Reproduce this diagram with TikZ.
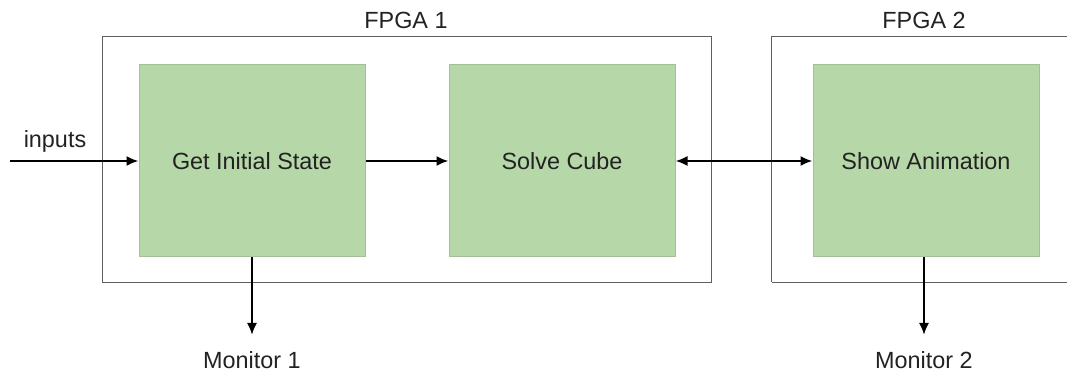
\documentclass[tikz,border=0pt]{standalone}
\usepackage{fontspec}
\setmainfont{Liberation Sans}
\usetikzlibrary{positioning,arrows.meta,calc}

\definecolor{blockgreen}{HTML}{B6D7A8}
\definecolor{blockedge}{HTML}{A3BF97}
\definecolor{boxgray}{HTML}{5F5F5F}
\definecolor{labelgray}{HTML}{222222}

\tikzset{
 block/.style={draw=blockedge, fill=blockgreen, line width=0.5pt, minimum width=113pt, minimum height=96pt, text=labelgray},
 fpga/.style={draw=boxgray, line width=0.75pt},
 flow/.style={-{Latex[length=6pt,width=5pt]}, line width=1pt},
 flowboth/.style={{Latex[length=6pt,width=5pt]}-{Latex[length=6pt,width=5pt]}, line width=1pt},
 plaintext/.style={text=labelgray}
}

\begin{document}
\begin{tikzpicture}[x=0.5pt,y=-0.5pt,font=\fontsize{11.7}{14}\selectfont]
 \useasboundingbox (0,0) rectangle (1067,373);

 %Blocks
 \node (getstate) [block] at (252,161) {Get Initial State};
 \node (solve) [block, right=41.5pt of getstate] {Solve Cube};
 \node (show) [block, right=68.5pt of solve] {Show Animation};

 %FPGA boxes
 \draw[fpga] ($(getstate.north west)+(-36,-28)$) rectangle ($(solve.south east)+(36,25)$);
 \coordinate (fpga2top) at ($(show.north west)+(-41,-28)$);
 \coordinate (fpga2bottom) at ($(show.south west)+(-41,25)$);
 \coordinate (rightedge) at (1067,0);
 \draw[fpga] (fpga2top) -- (fpga2bottom);
 \draw[fpga] (fpga2top) -- (fpga2top -| rightedge);
 \draw[fpga] (fpga2bottom) -- (fpga2bottom -| rightedge);

 %Names
 \node (fpga1) [plaintext] at (406,20) {FPGA 1};
 \node (fpga2) [plaintext] at (924,20) {FPGA 2};
 \node (inputsname) [plaintext] at (55,141) {inputs};
 \node (monitor1) [plaintext] at (252,360) {Monitor 1};
 \node (monitor2) [plaintext] at (924,360) {Monitor 2};

 %Coordinates
 \coordinate (inputs) at (10,161);
 \coordinate (monitor1end) at (252,335);
 \coordinate (monitor2end) at (924,335);

 %Arrows
 \draw[flow] (inputs) -- (getstate);
 \draw[flow] (getstate) -- (solve);
 \draw[flowboth] (solve) -- (show);
 \draw[flow] (getstate) -- (monitor1end);
 \draw[flow] (show.south -| monitor2end) -- (monitor2end);

\end{tikzpicture}
\end{document}
